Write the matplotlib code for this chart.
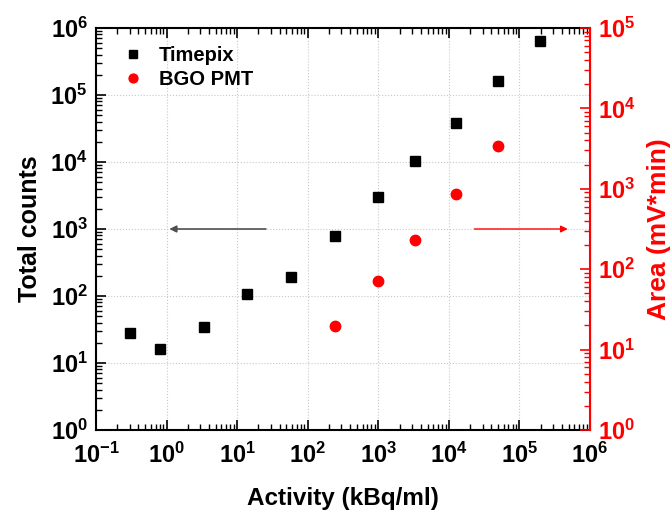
import matplotlib
matplotlib.use("Agg")
import matplotlib.pyplot as plt
from matplotlib.ticker import LogLocator, NullFormatter

plt.rcParams['font.family'] = ['Liberation Sans', 'DejaVu Sans']
plt.rcParams['font.weight'] = 'bold'
plt.rcParams['mathtext.default'] = 'bf'
plt.rcParams['axes.unicode_minus'] = False

# Data
activity_timepix = [0.3, 0.8, 3.4, 14, 58, 244, 1000, 3300, 12700, 49500, 193000]
counts_timepix = [28, 16, 34, 108, 192, 794, 3000, 10200, 38200, 160000, 646000]
activity_bgo = [244, 1000, 3300, 12700, 49500]
area_bgo = [19.5, 72, 231, 869, 3400]

fig = plt.figure(figsize=(6.72, 5.11), dpi=100)
ax = fig.add_axes([96/672, 1-430/511, (590-96)/672, (430-28)/511])
ax2 = ax.twinx()

red = '#ff0000'

h1, = ax.plot(activity_timepix, counts_timepix, 's', color='black', ms=7, linestyle='none', label='Timepix')
h2, = ax2.plot(activity_bgo, area_bgo, 'o', color=red, ms=7.5, linestyle='none', label='BGO PMT')

ax.set_xscale('log')
ax.set_yscale('log')
ax2.set_yscale('log')
ax.set_xlim(1e-1, 1e6)
ax.set_ylim(1e0, 1e6)
ax2.set_ylim(1e0, 1e5)

for a in (ax, ax2):
    a.xaxis.set_major_locator(LogLocator(base=10, numticks=20))
    a.xaxis.set_minor_locator(LogLocator(base=10, subs=range(2, 10), numticks=20))
    a.yaxis.set_major_locator(LogLocator(base=10, numticks=20))
    a.yaxis.set_minor_locator(LogLocator(base=10, subs=range(2, 10), numticks=20))
    a.xaxis.set_minor_formatter(NullFormatter())
    a.yaxis.set_minor_formatter(NullFormatter())

ax.grid(True, which='major', linestyle=':', color='#c8c8c8', linewidth=0.8)
ax.tick_params(axis='both', which='major', direction='in', length=7, width=1.2, labelsize=17, top=True, right=False, pad=6)
ax.tick_params(axis='x', which='major', pad=9)
ax.tick_params(axis='both', which='minor', direction='in', length=4, width=1.0, top=True, right=False)
ax2.tick_params(axis='y', which='major', direction='in', length=7, width=1.2, labelsize=17, colors=red, pad=6)
ax2.tick_params(axis='y', which='minor', direction='in', length=4, width=1.0, colors=red)

for s in ['left', 'bottom', 'top']:
    ax.spines[s].set_linewidth(1.5)
ax2.spines['right'].set_color(red)
ax2.spines['right'].set_linewidth(1.5)
for s in ['left', 'bottom', 'top']:
    ax2.spines[s].set_visible(False)

ax.set_xlabel('Activity (kBq/ml)', fontsize=17.5, fontweight='bold', labelpad=14)
ax.set_ylabel('Total counts', fontsize=18, fontweight='bold', labelpad=6)
ax2.set_ylabel('Area (mV*min)', fontsize=19, fontweight='bold', color=red, labelpad=8)

# Arrows
ax.annotate('', xy=(1.0, 1000), xytext=(28, 1000),
            arrowprops=dict(arrowstyle='-|>', color='#505050', lw=1.2, mutation_scale=10))
ax.annotate('', xy=(530000, 1000), xytext=(21000, 1000),
            arrowprops=dict(arrowstyle='-|>', color=red, lw=1.0, mutation_scale=10))

leg = ax.legend([h1, h2], ['Timepix', 'BGO PMT'], loc='upper left', frameon=False,
                prop={'weight': 'bold', 'size': 14.5}, handletextpad=0.8, handlelength=1.0,
                bbox_to_anchor=(0.017, 1.0), labelspacing=0.25, markerscale=0.85)

fig.savefig('out.png', dpi=100)
